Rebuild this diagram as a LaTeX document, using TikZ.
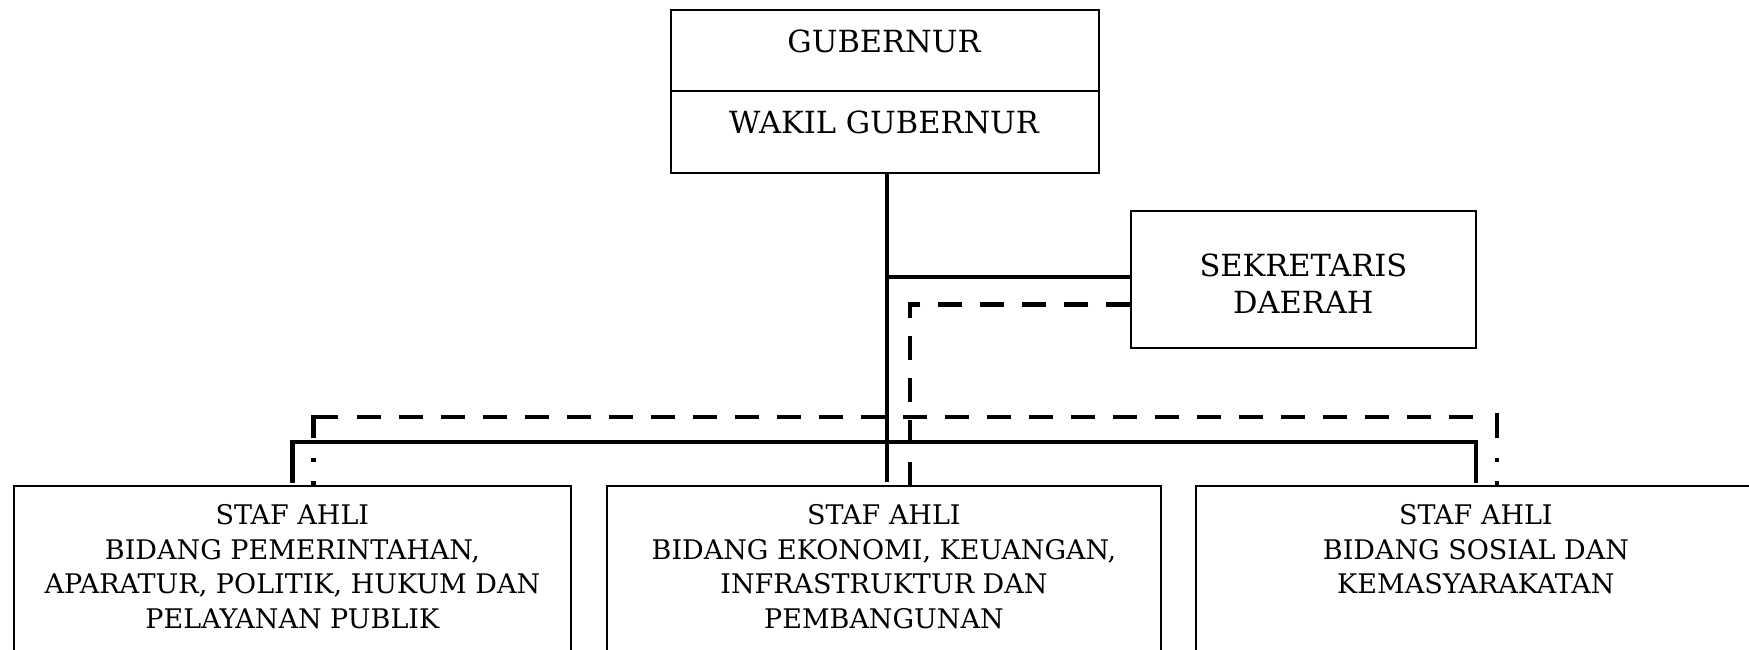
\documentclass[tikz,border=0pt]{standalone}
\usepackage{fontspec}
\setmainfont{DejaVu Serif}
\begin{document}
\begin{tikzpicture}[x=1pt,y=-1pt,
  box/.style={draw, line width=1.8pt, inner sep=0pt, anchor=north west},
  thickline/.style={line width=4.8pt},
  dashline/.style={line width=4.8pt, dash pattern=on 24pt off 18pt},
  legdash/.style={line width=4.8pt, dash pattern=on 4pt off 19pt on 4pt off 20pt on 300pt off 10pt},
  toptext/.style={font=\fontsize{30.5}{37}\selectfont, inner sep=0pt, anchor=base},
  sektext/.style={font=\fontsize{30.5}{37}\selectfont, inner sep=0pt, align=center},
  bottext/.style={font=\fontsize{27}{34.5}\selectfont, inner sep=0pt, anchor=north, align=center}]
\useasboundingbox (0,0) rectangle (1749,649);
\clip (0,0) rectangle (1749,649);
% boxes
\node[box, minimum width=428pt, minimum height=81pt] (gub) at (670,9) {};
\node[box, minimum width=428pt, minimum height=82pt] (wagub) at (670,90) {};
\node[box, minimum width=345pt, minimum height=137pt] (sek) at (1130,210) {};
\node[box, minimum width=557pt, minimum height=260pt] (b1) at (13,485) {};
\node[box, minimum width=554pt, minimum height=260pt] (b2) at (606,485) {};
\node[box, minimum width=560pt, minimum height=260pt] (b3) at (1195,485) {};
% texts
\node[toptext] (tgub) at (884,52.5) {GUBERNUR};
\node[toptext] (twagub) at (884,133) {WAKIL GUBERNUR};
\node[sektext] (tsek) at ([yshift=-4pt]sek.center) {SEKRETARIS\\DAERAH};
\node[bottext] (tb1) at ([yshift=-19.5pt]b1.north) {STAF AHLI\\BIDANG PEMERINTAHAN,\\APARATUR, POLITIK, HUKUM DAN\\PELAYANAN PUBLIK};
\node[bottext] (tb2) at ([yshift=-19.5pt]b2.north) {STAF AHLI\\BIDANG EKONOMI, KEUANGAN,\\INFRASTRUKTUR DAN\\PEMBANGUNAN};
\node[bottext] (tb3) at ([yshift=-19.5pt]b3.north) {STAF AHLI\\BIDANG SOSIAL DAN\\KEMASYARAKATAN};
% connectors
\draw[thickline] ([xshift=2pt]wagub.south) -- ([xshift=3pt,yshift=3pt]b2.north);
\draw[thickline] (sek.west |- 0,277) -- ([xshift=2pt]wagub.south |- 0,277);
\draw[dashline] ([yshift=-25pt]sek.west) -| ([xshift=26pt]b2.north);
\draw[thickline] ([yshift=2pt]b1.north) |- ([yshift=43pt]b3.north) -- ([yshift=2pt]b3.north);
% dashed bus: left leg with corner, middle run, right leg
\draw[legdash] ([xshift=21pt]b1.north) |- ([xshift=46pt,yshift=68pt]b1.north);
\draw[dashline] ([xshift=65pt,yshift=68pt]b1.north) -- ([xshift=-3pt,yshift=68pt]b3.north);
\draw[legdash] ([xshift=21pt]b3.north) -- ([xshift=21pt,yshift=72pt]b3.north);
\end{tikzpicture}
\end{document}
